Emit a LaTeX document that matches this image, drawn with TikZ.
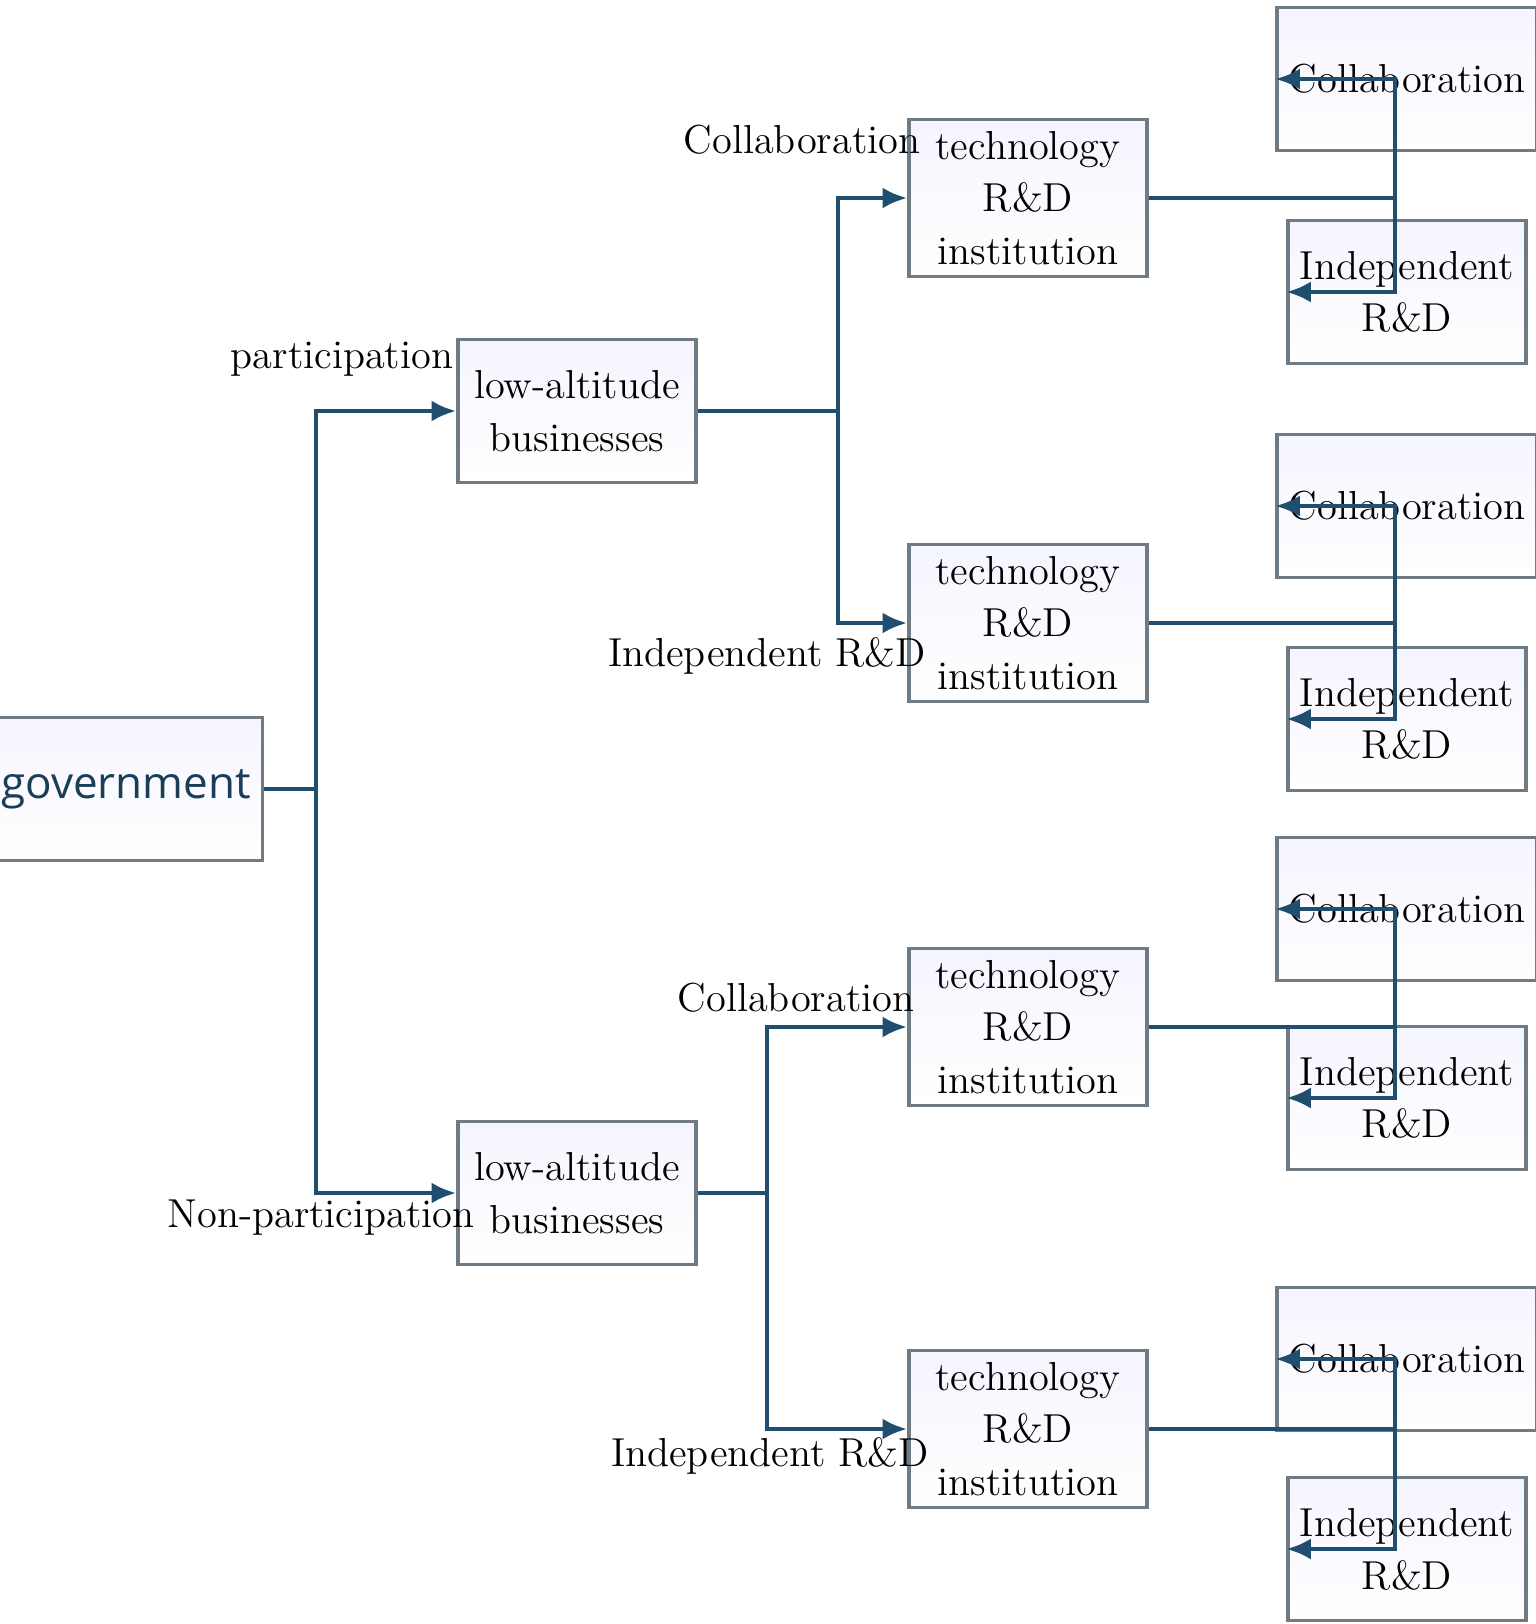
\documentclass[tikz,border=0pt]{standalone}
\usepackage{fontspec}
\newfontfamily\govfont{Open Sans}
\usetikzlibrary{arrows.meta}
\definecolor{linkblue}{HTML}{1F4E6E}
\definecolor{boxgray}{HTML}{6E7B85}
\begin{document}
\begin{tikzpicture}[x=0.01cm,y=-0.01cm,>={Latex[length=7pt,width=6pt]},
    box/.style={draw=boxgray,line width=1pt,top color=blue!4,bottom color=white,
      minimum width=2.38cm,minimum height=1.43cm,align=center,font=\fontsize{11.5}{15}\selectfont},
    link/.style={draw=linkblue,line width=1.3pt},
    lbl/.style={font=\fontsize{11.5}{14}\selectfont}]
        % page frame
        \useasboundingbox (0,0) rectangle (1535,1624);

        % the boxes
        \node[box,font=\govfont\fontsize{12.5}{15}\selectfont,text=linkblue!80!black] (gov) at (126,789) {government};
        \node[box] (bizA) at (577,411) {low-altitude\\businesses};
        \node[box] (bizB) at (577,1193) {low-altitude\\businesses};
        \foreach \n/\y in {1/198,2/623,3/1027,4/1429}
            \node[box] (inst\n) at (1028,\y) {technology\\R\&D\\institution};
        \foreach \n/\y in {1/79,3/506,5/909,7/1359}
            \node[box] (leaf\n) at (1407,\y) {Collaboration};
        \foreach \n/\y in {2/292,4/719,6/1098,8/1549}
            \node[box] (leaf\n) at (1407,\y) {Independent\\R\&D};

        % the branch points
        \coordinate (busG) at (316,789);
        \coordinate (busA) at (838,411);
        \coordinate (busB) at (767,1193);

        % the connectors
        \draw[link] (gov.east) -- (busG);
        \draw[link,->] (busG) |- (bizA.west);
        \draw[link,->] (busG) |- (bizB.west);
        \draw[link] (bizA.east) -- (busA);
        \draw[link,->] (busA) |- (inst1.west);
        \draw[link,->] (busA) |- (inst2.west);
        \draw[link] (bizB.east) -- (busB);
        \draw[link,->] (busB) |- (inst3.west);
        \draw[link,->] (busB) |- (inst4.west);
        \foreach \i/\a/\b in {1/1/2,2/3/4,3/5/6,4/7/8} {
            \coordinate (fork\i) at ([xshift=70]inst\i.east);
            \draw[link] (inst\i.east) -- (fork\i);
            \draw[link,->] (fork\i) |- (leaf\a.west);
            \draw[link,->] (fork\i) |- (leaf\b.west);
        }

        % the branch labels
        \node[lbl] at (342,359) {participation};
        \node[lbl] at (321,1218) {Non-participation};
        \node[lbl] at (802,140) {Collaboration};
        \node[lbl] at (767,656) {Independent R\&D};
        \node[lbl] at (796,998) {Collaboration};
        \node[lbl] at (770,1456) {Independent R\&D};
\end{tikzpicture}
\end{document}
